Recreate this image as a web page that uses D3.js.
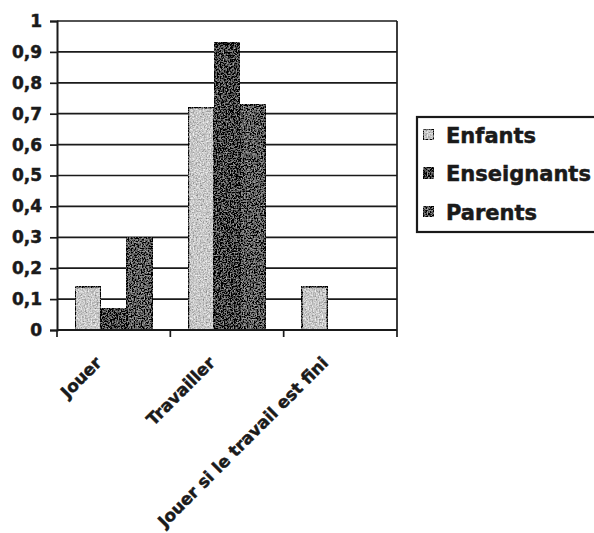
<!DOCTYPE html>
<html>
<head>
<meta charset="utf-8">
<script src="https://cdn.jsdelivr.net/npm/d3@7"></script>
<style>
	body { margin: 0; background: #fff; }
	svg { display: block; }
</style>
</head>
<body>
<div id="app"></div>
<script>
// data
const categories = ['Jouer', 'Travailler', 'Jouer si le travail est fini']
const seriesNames = ['Enfants', 'Enseignants', 'Parents']
const enfants = [0.14, 0.72, 0.14]
const enseignants = [0.07, 0.93, 0]
const parents = [0.30, 0.73, 0]
const yTicks = [0, 0.1, 0.2, 0.3, 0.4, 0.5, 0.6, 0.7, 0.8, 0.9, 1]

const seriesValues = [enfants, enseignants, parents]
const colors = ['#c8c8c8', '#454545', '#5c5c5c']

const width = 594
const height = 533
const margin = { top: 21, right: 197, bottom: 203, left: 57 }
const plotW = width - margin.left - margin.right
const plotH = height - margin.top - margin.bottom

const svg = d3.select('#app')
	.append('svg')
	.attr('width', width)
	.attr('height', height)

// grainy texture to mimic the scanned stipple fill
const defs = svg.append('defs')
const grain = defs.append('filter').attr('id', 'grain')
	.attr('x', 0).attr('y', 0).attr('width', 1).attr('height', 1)
grain.append('feTurbulence')
	.attr('type', 'fractalNoise')
	.attr('baseFrequency', 0.7)
	.attr('numOctaves', 2)
	.attr('seed', 4)
	.attr('result', 'noise')
grain.append('feColorMatrix')
	.attr('in', 'noise')
	.attr('type', 'matrix')
	.attr('values', '1 0 0 0 0  1 0 0 0 0  1 0 0 0 0  0 0 0 0 1')
	.attr('result', 'gray')
grain.append('feComposite')
	.attr('in', 'SourceGraphic')
	.attr('in2', 'gray')
	.attr('operator', 'arithmetic')
	.attr('k1', 0).attr('k2', 1).attr('k3', 1.1).attr('k4', -0.55)
	.attr('result', 'mix')
grain.append('feComposite')
	.attr('in', 'mix')
	.attr('in2', 'SourceAlpha')
	.attr('operator', 'in')

const g = svg.append('g')
	.attr('transform', `translate(${margin.left},${margin.top})`)

// scales
const x0 = d3.scaleBand().domain(categories).range([0, plotW]).padding(0)
const x1 = d3.scaleBand().domain(seriesNames).range([0, x0.bandwidth()])
	.paddingInner(0).paddingOuter(0.7)
const y = d3.scaleLinear().domain([0, 1]).range([plotH, 0])

const fmt = (d) => d3.format('.1~f')(d).replace('.', ',')

// shared look for the heavy scanned text
function heavyText(sel, size) {
	sel.attr('font-family', 'DejaVu Sans')
		.attr('font-weight', 'bold')
		.attr('font-size', size)
		.attr('fill', '#1a1a1a')
		.attr('stroke', '#1a1a1a')
		.attr('stroke-width', 0.5)
}

// gridlines
g.selectAll('line.grid')
	.data(yTicks)
	.enter()
	.append('line')
	.attr('class', 'grid')
	.attr('x1', 0)
	.attr('x2', plotW)
	.attr('y1', (d) => y(d))
	.attr('y2', (d) => y(d))
	.attr('stroke', '#1a1a1a')
	.attr('stroke-width', 1.7)

// right border of the plot area
g.append('line')
	.attr('x1', plotW).attr('x2', plotW)
	.attr('y1', 0).attr('y2', plotH)
	.attr('stroke', '#1a1a1a')
	.attr('stroke-width', 1.7)

// bars
const groups = g.selectAll('g.cat')
	.data(categories)
	.enter()
	.append('g')
	.attr('class', 'cat')
	.attr('transform', (d) => `translate(${x0(d)},0)`)

groups.selectAll('rect')
	.data((d, i) => seriesNames.map((s, j) => ({ s, j, v: seriesValues[j][i] })))
	.enter()
	.filter((d) => d.v > 0)
	.append('rect')
	.attr('x', (d) => x1(d.s))
	.attr('y', (d) => y(d.v))
	.attr('width', x1.bandwidth())
	.attr('height', (d) => y(0) - y(d.v))
	.attr('fill', (d) => colors[d.j])
	.attr('stroke', '#111')
	.attr('stroke-width', 1.6)
	.attr('filter', 'url(#grain)')

// y axis
const yAxis = d3.axisLeft(y).tickValues(yTicks).tickFormat(fmt)
	.tickSize(7).tickPadding(8)
const yg = g.append('g').call(yAxis)
yg.select('.domain').attr('stroke', '#1a1a1a').attr('stroke-width', 2)
yg.selectAll('.tick line').attr('stroke', '#1a1a1a').attr('stroke-width', 1.7)
yg.selectAll('.tick text').call(heavyText, 17)

// x axis: baseline plus ticks at the category boundaries
const bounds = categories.map((c) => x0(c)).concat([x0(categories[categories.length - 1]) + x0.bandwidth()])
g.append('line')
	.attr('x1', 0).attr('x2', plotW)
	.attr('y1', plotH).attr('y2', plotH)
	.attr('stroke', '#1a1a1a')
	.attr('stroke-width', 2)
g.selectAll('line.xtick')
	.data(bounds)
	.enter()
	.append('line')
	.attr('class', 'xtick')
	.attr('x1', (d) => d).attr('x2', (d) => d)
	.attr('y1', plotH).attr('y2', plotH + 7)
	.attr('stroke', '#1a1a1a')
	.attr('stroke-width', 1.7)

// rotated category labels
g.selectAll('text.xlab')
	.data(categories)
	.enter()
	.append('text')
	.attr('class', 'xlab')
	.attr('transform', (d) => `translate(${x0(d) + x0.bandwidth() / 2 - 11},${plotH + 34}) rotate(-45)`)
	.attr('text-anchor', 'end')
	.call(heavyText, 16.8)
	.text((d) => d)

// legend
const legend = svg.append('g').attr('transform', 'translate(417,117)')
legend.append('rect')
	.attr('width', 200)
	.attr('height', 115)
	.attr('fill', '#fff')
	.attr('stroke', '#1a1a1a')
	.attr('stroke-width', 2.2)

const items = legend.selectAll('g.item')
	.data(seriesNames)
	.enter()
	.append('g')
	.attr('class', 'item')
	.attr('transform', (d, i) => `translate(6,${18 + i * 38.5})`)

items.append('rect')
	.attr('x', 0)
	.attr('y', -6)
	.attr('width', 11)
	.attr('height', 11)
	.attr('fill', (d, i) => colors[i])
	.attr('stroke', '#111')
	.attr('stroke-width', 1.4)
	.attr('filter', 'url(#grain)')

items.append('text')
	.attr('x', 23)
	.attr('y', 7.5)
	.call(heavyText, 21)
	.text((d) => d)
</script>
</body>
</html>
